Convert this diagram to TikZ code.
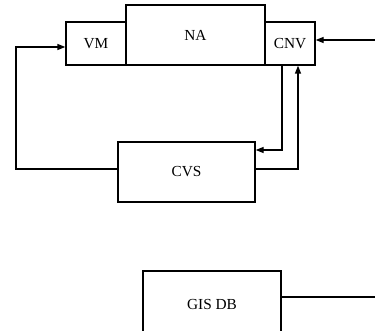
\documentclass[tikz,border=0pt]{standalone}
\usepackage{fontspec}
\setmainfont{Liberation Serif}
\usetikzlibrary{arrows.meta}

\tikzset{every picture/.style={line width=1pt}}
\tikzset{
  blockbox/.style={draw, rectangle, inner sep=0pt, font=\fontsize{11.5}{13}\selectfont},
  flowarrow/.style={-{Triangle[length=6pt,width=4.5pt]}}
}

\begin{document}
\begin{tikzpicture}[x=0.75pt,y=0.75pt,yscale=-1,xscale=1]
\useasboundingbox (0,0) rectangle (375,331);
\clip (0,0) rectangle (375,331);

%Shape: Rectangle [id:vm] 
\node [blockbox, minimum width=45pt, minimum height=32.25pt] (vm) at (96,43.5) {VM};
%Shape: Rectangle [id:na] 
\node [blockbox, minimum width=104.25pt, minimum height=45pt] (na) at (195.5,35) {NA};
%Shape: Rectangle [id:cnv] 
\node [blockbox, minimum width=37.5pt, minimum height=32.25pt] (cnv) at (290,43.5) {CNV};
%Shape: Rectangle [id:cvs] 
\node [blockbox, minimum width=102.75pt, minimum height=45pt] (cvs) at (186.5,172) {CVS};
%Shape: Rectangle [id:gisdb] 
\node [blockbox, minimum width=103.5pt, minimum height=50.25pt] (gisdb) at (212,304.5) {GIS DB};

%Free ends
\coordinate (inR) at (375,40);
\coordinate (lft) at (16,47);
\coordinate (outR) at (375,297);

%Straight Lines [id:in] 
\draw [flowarrow] (inR) -- (inR -| cnv.east);
%Straight Lines [id:down] 
\draw [flowarrow] ([xshift=-6pt]cnv.south) |- ([yshift=-16.5pt]cvs.east);
%Straight Lines [id:up] 
\draw [flowarrow] ([yshift=-2.25pt]cvs.east) -| ([xshift=6pt]cnv.south);
%Straight Lines [id:loop] 
\draw [flowarrow] ([yshift=-2.25pt]cvs.west) -| (lft) -- (lft -| vm.west);
%Straight Lines [id:out] 
\draw (outR -| gisdb.east) -- (outR);

\end{tikzpicture}
\end{document}
